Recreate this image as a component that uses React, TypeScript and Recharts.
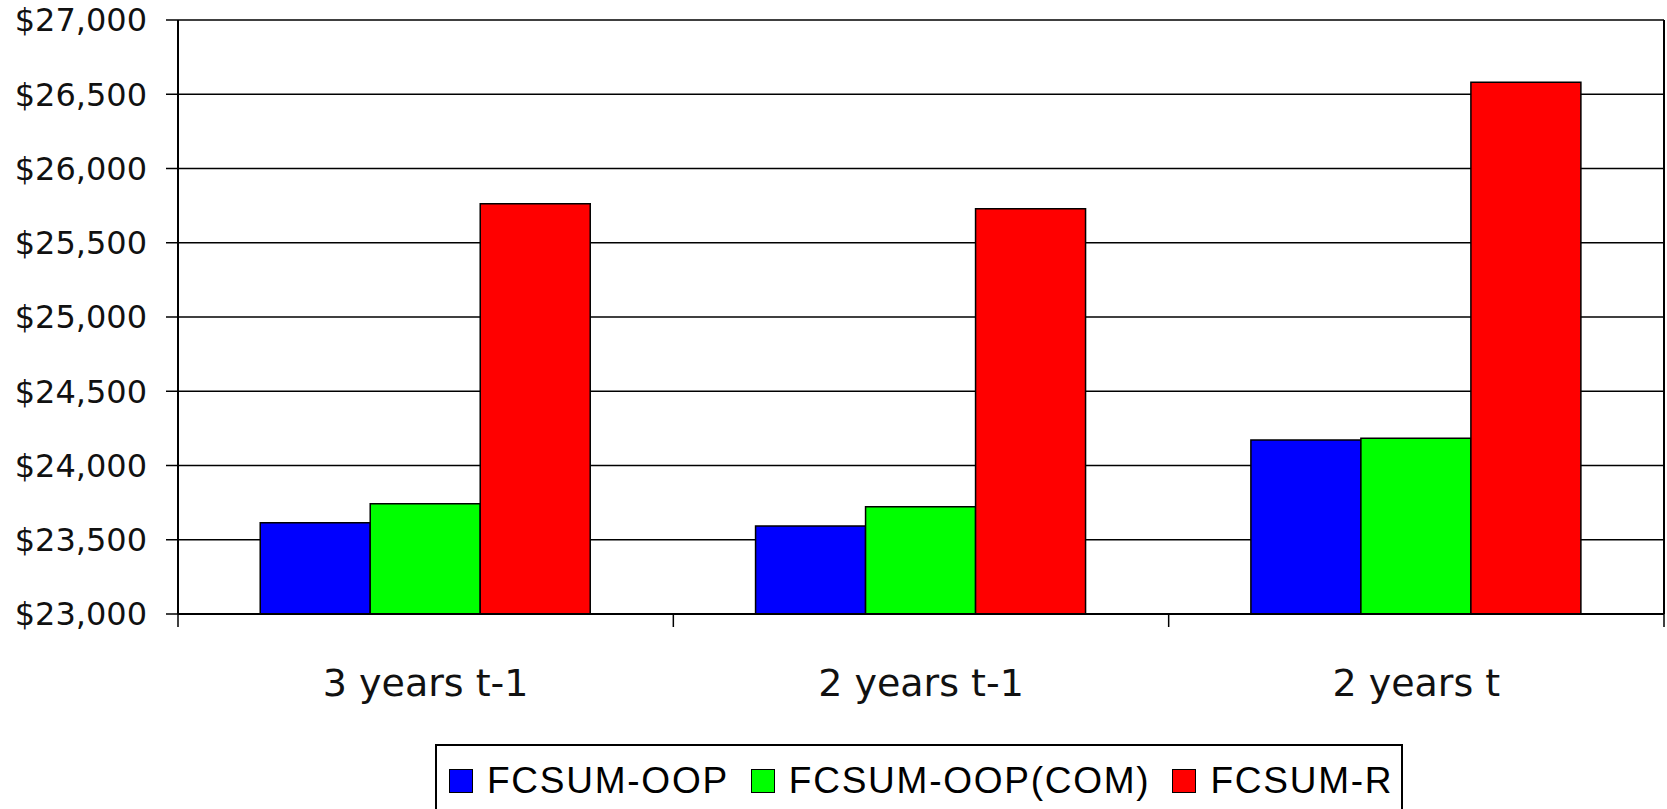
import { Bar, BarChart, CartesianGrid, Legend, XAxis, YAxis } from "recharts";

const categories = ["3 years t-1", "2 years t-1", "2 years t"];
const oopValues = [23615, 23593, 24172];
const oopComValues = [23743, 23723, 24183];
const rValues = [25763, 25729, 26580];
const yTicks = [23000, 23500, 24000, 24500, 25000, 25500, 26000, 26500, 27000];

const series = [
  { key: "oop", name: "FCSUM-OOP", color: "#0000FF" },
  { key: "oopCom", name: "FCSUM-OOP(COM)", color: "#00FF00" },
  { key: "r", name: "FCSUM-R", color: "#FF0000" },
];

const data = categories.map((name, i) => ({
  name,
  oop: oopValues[i],
  oopCom: oopComValues[i],
  r: rValues[i],
}));

const FONT = "'DejaVu Sans', Verdana, sans-serif";
const LEGEND_FONT = "'Liberation Sans', Arial, sans-serif";
const X_LABEL_MARGIN = 55;
const X_TICK_LEN = 13;

function formatDollar(value: number): string {
  return `$${value.toLocaleString("en-US")}`;
}

// category label plus tick marks at the band edges (Excel style)
function CategoryTick(props: any) {
  const { x, y, payload, index, visibleTicksCount } = props;
  const half = payload?.offset ?? 0;
  const axisY = y - X_LABEL_MARGIN;
  const isLast = index === visibleTicksCount - 1;
  return (
    <g>
      <line x1={x - half} x2={x - half} y1={axisY} y2={axisY + X_TICK_LEN} stroke="#000" strokeWidth={1.5} />
      {isLast && (
        <line x1={x + half} x2={x + half} y1={axisY} y2={axisY + X_TICK_LEN} stroke="#000" strokeWidth={1.5} />
      )}
      <text x={x} y={y} dy="0.71em" textAnchor="middle" fill="#111" fontSize={38} fontFamily={FONT}>
        {payload.value}
      </text>
    </g>
  );
}

function LegendBox() {
  return (
    <div
      style={{
        boxSizing: "border-box",
        width: 968,
        height: 74,
        border: "2px solid #000",
        background: "#fff",
        display: "flex",
        alignItems: "center",
        paddingLeft: 12,
        fontFamily: LEGEND_FONT,
        fontSize: 37,
        letterSpacing: 1.75,
        color: "#000",
        whiteSpace: "nowrap",
      }}
    >
      {series.map((s, i) => (
        <div key={s.key} style={{ display: "flex", alignItems: "center", marginLeft: i === 0 ? 0 : 22 }}>
          <span
            style={{
              display: "inline-block",
              boxSizing: "border-box",
              width: 24,
              height: 24,
              background: s.color,
              border: "1.5px solid #000",
              marginRight: 14,
            }}
          />
          <span>{s.name}</span>
        </div>
      ))}
    </div>
  );
}

export default function App() {
  return (
    <div style={{ position: "absolute", left: 0, top: 0, width: 1667, height: 809, overflow: "hidden", background: "#fff" }}>
      <BarChart
        width={1667}
        height={809}
        data={data}
        margin={{ top: 20, right: 0, left: 0, bottom: 194 }}
        barCategoryGap="16.6%"
        barGap={0}
      >
        <CartesianGrid yAxisId="left" vertical={false} stroke="#000" strokeWidth={1.5} />
        <XAxis
          dataKey="name"
          height={1}
          interval={0}
          axisLine={{ stroke: "#000", strokeWidth: 2 }}
          tickLine={false}
          tickSize={0}
          tickMargin={X_LABEL_MARGIN}
          tick={<CategoryTick />}
        />
        <YAxis
          yAxisId="left"
          width={178}
          domain={[23000, 27000]}
          ticks={yTicks}
          interval={0}
          allowDataOverflow
          axisLine={{ stroke: "#000", strokeWidth: 2 }}
          tickLine={{ stroke: "#000", strokeWidth: 1.5 }}
          tickSize={12}
          tickMargin={19}
          tickFormatter={formatDollar}
          tick={{ fill: "#111", fontSize: 32, fontFamily: FONT }}
        />
        <YAxis
          yAxisId="right"
          orientation="right"
          width={3}
          domain={[23000, 27000]}
          allowDataOverflow
          axisLine={{ stroke: "#000", strokeWidth: 2 }}
          tickLine={false}
          tick={false}
        />
        {series.map((s) => (
          <Bar
            key={s.key}
            yAxisId="left"
            dataKey={s.key}
            name={s.name}
            fill={s.color}
            stroke="#000"
            strokeWidth={1.5}
            isAnimationActive={false}
          />
        ))}
        <Legend
          layout="horizontal"
          verticalAlign="middle"
          align="center"
          content={() => <LegendBox />}
          wrapperStyle={{ left: 435, top: 744, width: 968 }}
        />
      </BarChart>
    </div>
  );
}
